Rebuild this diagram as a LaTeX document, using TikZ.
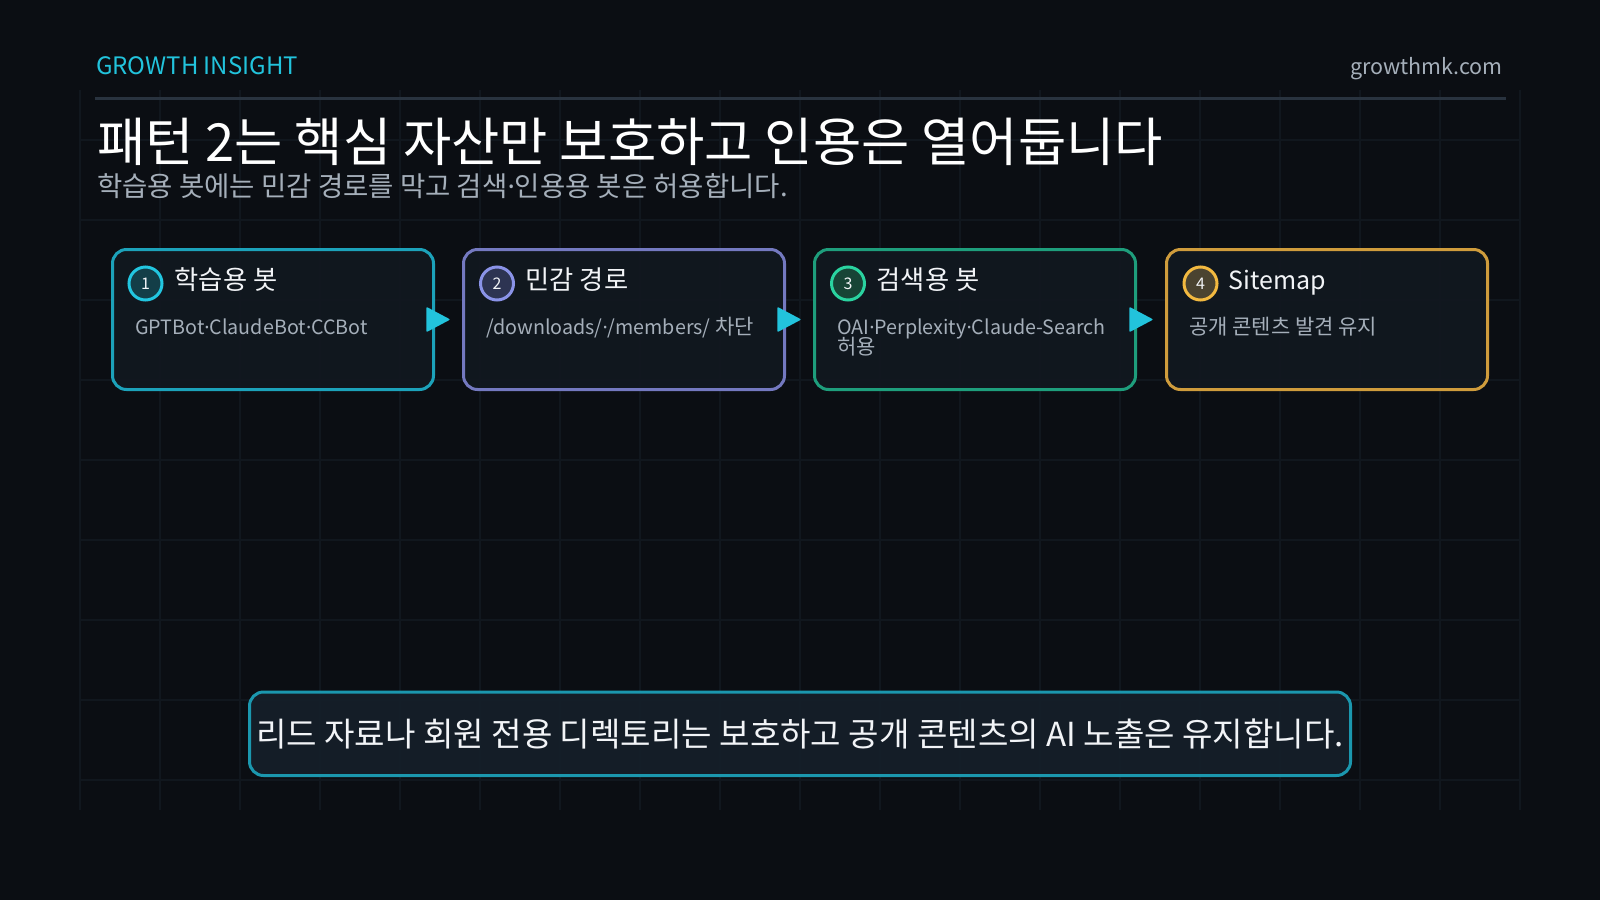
\documentclass[tikz,border=0pt]{standalone}
\usepackage{fontspec}
\setmainfont{Noto Sans CJK KR}
\newfontfamily\dotfont{Noto Sans}
\newcommand\mdot{{\dotfont ·}}
\newcommand\kofs{\fontsize{21}{20}\selectfont}
\newcommand\bodyfs{\fontsize{19.7}{20}\selectfont\lineskiplimit=-30pt\relax}
\usetikzlibrary{arrows.meta}
\definecolor{bg}{HTML}{0B0E13}
\definecolor{gridc}{HTML}{11171E}
\definecolor{rulec}{HTML}{29333F}
\definecolor{accent}{HTML}{22C3DC}
\definecolor{muted}{HTML}{A5AFBA}
\definecolor{headc}{HTML}{F2F4F7}
\definecolor{cardfill}{HTML}{111820}
\definecolor{notefill}{HTML}{151F29}
\definecolor{noteb}{HTML}{1B97AE}
\definecolor{cAb}{HTML}{1CA2BA}\definecolor{cAc}{HTML}{22C6E0}\definecolor{cAf}{HTML}{133E48}
\definecolor{cBb}{HTML}{7479C0}\definecolor{cBc}{HTML}{8A93E8}\definecolor{cBf}{HTML}{2D3452}
\definecolor{cCb}{HTML}{1E9E7C}\definecolor{cCc}{HTML}{2AD3A0}\definecolor{cCf}{HTML}{174436}
\definecolor{cDb}{HTML}{CF9C3C}\definecolor{cDc}{HTML}{F2B940}\definecolor{cDf}{HTML}{4A4330}
\begin{document}
\begin{tikzpicture}[x=1pt,y=-1pt,
  gridline/.style={draw=gridc, line width=1.2pt},
  card/.style={rectangle, rounded corners=14pt, line width=3pt, fill=cardfill, fill opacity=0.9,
    minimum width=321pt, minimum height=140pt, inner sep=0pt},
  badge/.style={circle, line width=3pt, minimum size=33pt, inner sep=0pt, text=headc,
    font=\fontsize{16}{18}\selectfont},
  head/.style={anchor=base west, inner sep=0pt, text=headc, font=\fontsize{26.3}{28}\selectfont},
  body/.style={anchor=base west, inner sep=0pt, text=muted, align=left, font=\bodyfs},
  flow/.style={accent, line width=1.5pt, line join=round, shorten <=-12pt, shorten >=12.5pt,
    -{Triangle[length=24pt,width=25pt,round]}},
  note/.style={rectangle, rounded corners=14pt, line width=3pt, draw=noteb, fill=notefill,
    fill opacity=0.92, text opacity=1, text=headc, minimum width=1101pt, minimum height=83.5pt,
    inner sep=0pt, font=\fontsize{33.1}{36}\selectfont}
]
\fill[bg] (0,0) rectangle (1600,900);
\useasboundingbox (0,0) rectangle (1600,900);
\foreach \x in {80,160,...,1520} \draw[gridline] (\x,90) -- (\x,810);
\foreach \y in {140,220,...,780} \draw[gridline] (80,\y) -- (1520,\y);

\node[anchor=base west, inner sep=0pt, text=accent, font=\fontsize{24}{28}\selectfont] (brand) at (96,74) {GROWTH INSIGHT};
\node[anchor=base east, inner sep=0pt, text=muted, font=\fontsize{21.5}{26}\selectfont] (site) at (1503,74) {growthmk.com};
\draw[rulec, line width=3pt] (95,98) -- (1506,98);
\node[anchor=base west, inner sep=0pt, text=white, font=\fontsize{52.5}{60}\selectfont] (title) at (97,161) {패턴 2는 핵심 자산만 보호하고 인용은 열어둡니다};
\node[anchor=base west, inner sep=0pt, text=muted, font=\fontsize{27.5}{30}\selectfont] (sub) at (97,196) {학습용 봇에는 민감 경로를 막고 검색\mdot 인용용 봇은 허용합니다.};

\node[card, draw=cAb] (card1) at (273,319.5) {};
\node[card, draw=cBb] (card2) at (624,319.5) {};
\node[card, draw=cCb] (card3) at (975,319.5) {};
\node[card, draw=cDb] (card4) at (1327,319.5) {};

\node[badge, draw=cAc, fill=cAf] (b1) at ([xshift=34.5pt, yshift=-35.5pt]card1.north west) {1};
\node[badge, draw=cBc, fill=cBf] (b2) at ([xshift=35pt, yshift=-35.5pt]card2.north west) {2};
\node[badge, draw=cCc, fill=cCf] (b3) at ([xshift=35pt, yshift=-35.5pt]card3.north west) {3};
\node[badge, draw=cDc, fill=cDf] (b4) at ([xshift=35.5pt, yshift=-35.5pt]card4.north west) {4};

\node[head] (h1) at ([xshift=63.5pt, yshift=-41.5pt]card1.north west) {학습용 봇};
\node[head] (h2) at ([xshift=63.5pt, yshift=-41.5pt]card2.north west) {민감 경로};
\node[head] (h3) at ([xshift=63.5pt, yshift=-41.5pt]card3.north west) {검색용 봇};
\node[head, font=\fontsize{25}{28}\selectfont] (h4) at ([xshift=63.5pt, yshift=-41.5pt]card4.north west) {Sitemap};

\node[body] (t1) at ([xshift=24pt, yshift=-86pt]card1.north west) {GPTBot\mdot ClaudeBot\mdot CCBot};
\node[body] (t2) at ([xshift=24pt, yshift=-86pt]card2.north west) {/downloads/\mdot/members/ {\kofs 차단}};
\node[body] (t3) at ([xshift=24pt, yshift=-106pt]card3.north west) {OAI\mdot Perplexity\mdot Claude-Search\\{\kofs 허용}};
\node[body, font=\kofs] (t4) at ([xshift=24pt, yshift=-86pt]card4.north west) {공개 콘텐츠 발견 유지};

\draw[flow] (card1.east) -- (card2.west);
\draw[flow] (card2.east) -- (card3.west);
\draw[flow] (card3.east) -- (card4.west);

\node[note] (note) at (800,733.75) {리드 자료나 회원 전용 디렉토리는 보호하고 공개 콘텐츠의 AI 노출은 유지합니다.};
\end{tikzpicture}
\end{document}
